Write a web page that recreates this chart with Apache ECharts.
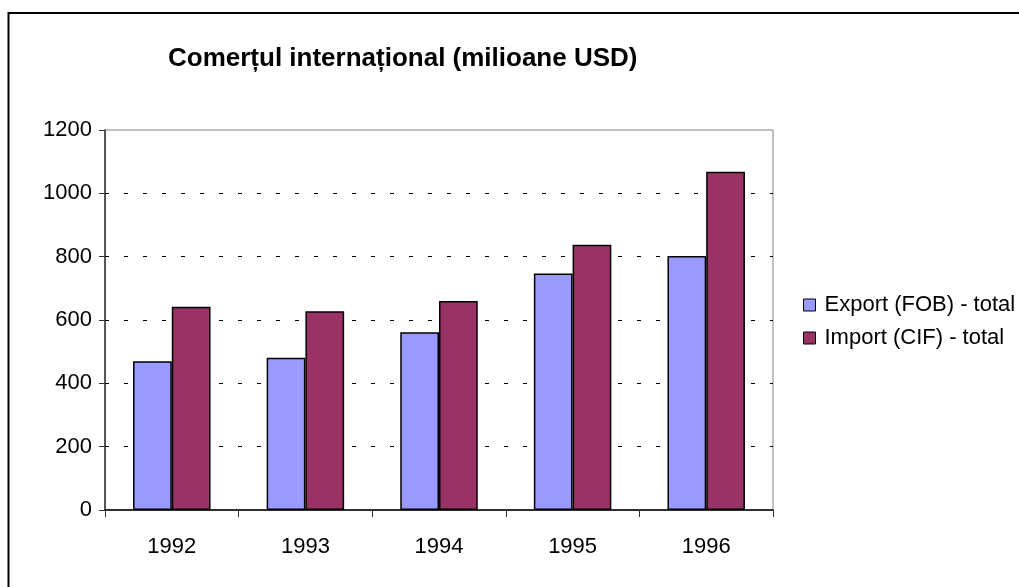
<!DOCTYPE html>
<html>
<head>
<meta charset="utf-8">
<script src="https://cdn.jsdelivr.net/npm/echarts@6/dist/echarts.min.js"></script>
<style>
  html, body { margin: 0; padding: 0; background: #fff; }
  #chart { width: 1019px; height: 587px; }
</style>
</head>
<body>
<div id="chart"></div>
<script>
// data
var years = ['1992', '1993', '1994', '1995', '1996'];
var exportFob = [470, 481, 561, 747, 802];
var importCif = [642, 628, 660, 838, 1068];
var seriesNames = ['Export (FOB) - total', 'Import (CIF) - total'];

var FONT = '"Liberation Sans", Arial, sans-serif';

var chart = echarts.init(document.getElementById('chart'), null, { renderer: 'canvas' });

var option = {
  animation: false,
  backgroundColor: '#fff',
  color: ['#9999FF', '#993366'],
  title: {
    text: 'Comerțul internațional (milioane USD)',
    left: 168,
    top: 46,
    padding: 0,
    textStyle: { fontFamily: FONT, fontSize: 26, fontWeight: 'bold', color: '#000' }
  },
  legend: {
    orient: 'vertical',
    left: 803,
    top: 294,
    padding: 0,
    itemWidth: 12,
    itemHeight: 12,
    itemGap: 11,
    icon: 'rect',
    itemStyle: { borderColor: '#000', borderWidth: 1 },
    textStyle: { fontFamily: FONT, fontSize: 22, color: '#000', padding: [0, 0, 0, 4] },
    data: seriesNames
  },
  grid: {
    left: 105,
    right: 246,
    top: 130,
    bottom: 77,
    show: true,
    borderColor: '#808080',
    borderWidth: 1,
    containLabel: false
  },
  xAxis: {
    type: 'category',
    data: years,
    axisLine: { lineStyle: { color: '#000', width: 1.5 } },
    axisTick: { show: true, length: 7, lineStyle: { color: '#333' } },
    axisLabel: { fontFamily: FONT, fontSize: 22, color: '#000', margin: 26 },
    splitLine: { show: false }
  },
  yAxis: {
    type: 'value',
    min: 0,
    max: 1200,
    interval: 200,
    axisLine: { show: true, lineStyle: { color: '#333', width: 1.5 } },
    axisTick: { show: true, length: 6, lineStyle: { color: '#333' } },
    axisLabel: {
      fontFamily: FONT, fontSize: 22, color: '#000', margin: 13,
      formatter: function (v) { return String(v); }
    },
    splitLine: {
      show: true,
      showMinLine: false,
      showMaxLine: false,
      lineStyle: { color: '#000', width: 1, type: [4, 15] }
    }
  },
  series: [
    {
      name: seriesNames[0],
      type: 'bar',
      data: exportFob,
      barGap: '0%',
      barCategoryGap: '42%',
      itemStyle: { borderColor: '#000', borderWidth: 1.5 }
    },
    {
      name: seriesNames[1],
      type: 'bar',
      data: importCif,
      barGap: '0%',
      barCategoryGap: '42%',
      itemStyle: { borderColor: '#000', borderWidth: 1.5 }
    }
  ],
  graphic: [
    {
      type: 'rect',
      silent: true,
      z: 100,
      shape: { x: 8.5, y: 13, width: 1200, height: 800 },
      style: { fill: 'none', stroke: '#000', lineWidth: 2 }
    }
  ]
};

chart.setOption(option);
</script>
</body>
</html>
